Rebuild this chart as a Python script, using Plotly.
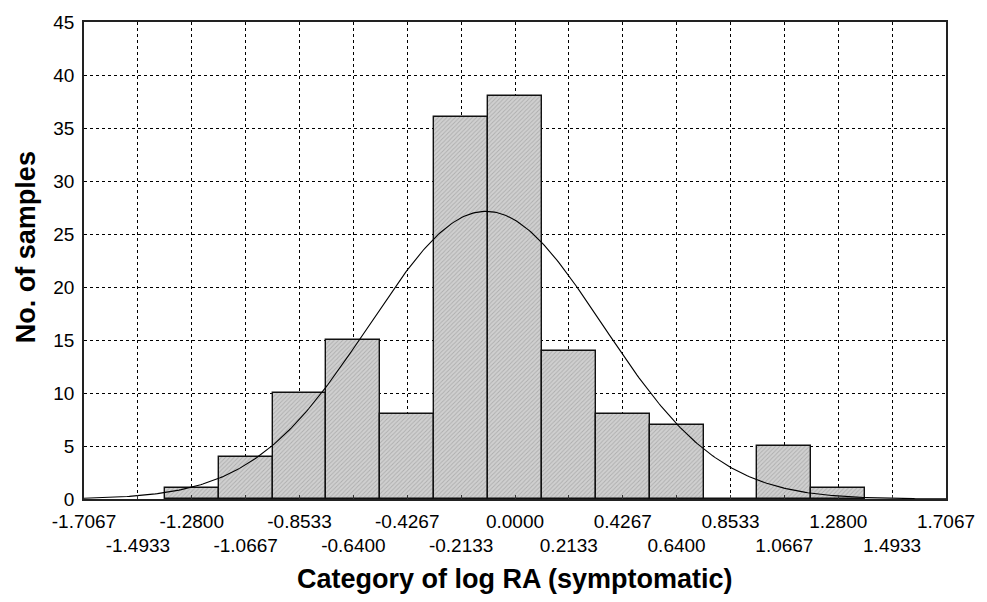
import numpy as np
import plotly.graph_objects as go

# ---- data ----
bin_centers = [-1.2800, -1.0667, -0.8533, -0.6400, -0.4267, -0.2133, 0.0000,
               0.2133, 0.4267, 0.6400, 0.8533, 1.0667, 1.2800]
counts = [1, 4, 10, 15, 8, 36, 38, 14, 8, 7, 0, 5, 1]
bin_width = 0.21333

tick_vals = [-1.7067, -1.4933, -1.2800, -1.0667, -0.8533, -0.6400, -0.4267, -0.2133,
             0.0000, 0.2133, 0.4267, 0.6400, 0.8533, 1.0667, 1.2800, 1.4933, 1.7067]
tick_labels = ["-1.7067", "-1.4933", "-1.2800", "-1.0667", "-0.8533", "-0.6400",
               "-0.4267", "-0.2133", "0.0000", "0.2133", "0.4267", "0.6400",
               "0.8533", "1.0667", "1.2800", "1.4933", "1.7067"]
y_ticks = [0, 5, 10, 15, 20, 25, 30, 35, 40, 45]

# fitted normal curve parameters
fit_mean = -0.115
fit_sd = 0.461

# ---- build ----
n_total = sum(counts)
xs = np.linspace(tick_vals[0], tick_vals[-1], 400)
ys = n_total * bin_width / (fit_sd * np.sqrt(2 * np.pi)) * np.exp(-0.5 * ((xs - fit_mean) / fit_sd) ** 2)

# staggered tick labels: every second label on a second row
tick_text = [t if i % 2 == 0 else "<br>" + t for i, t in enumerate(tick_labels)]

FONT = "Liberation Sans, Arial, sans-serif"

fig = go.Figure()
fig.add_trace(go.Bar(
    x=bin_centers, y=counts, width=bin_width,
    marker=dict(
        color="#c4c4c4",
        line=dict(color="#111111", width=1.4),
        pattern=dict(shape="/", fgcolor="#8c8c8c", bgcolor="#d0d0d0", size=3, solidity=0.3),
    ),
    showlegend=False,
))
fig.add_trace(go.Scatter(
    x=xs, y=ys, mode="lines",
    line=dict(color="#000000", width=1.1),
    showlegend=False,
))

fig.update_layout(
    width=987, height=602,
    margin=dict(l=84, r=35, t=13, b=103),
    paper_bgcolor="white", plot_bgcolor="white",
    bargap=0,
    font=dict(family=FONT, size=19, color="black"),
    xaxis=dict(
        range=[tick_vals[0], tick_vals[-1]],
        tickmode="array", tickvals=tick_vals, ticktext=tick_text,
        tickangle=0,
        ticks="inside", ticklen=4, tickcolor="#333333", tickwidth=1,
        ticklabelstandoff=4,
        showgrid=True, gridcolor="#000000", griddash="dot", gridwidth=1,
        showline=True, linecolor="#222222", linewidth=1.5, mirror=True,
        zeroline=False,
        tickfont=dict(family=FONT, size=19, color="black"),
    ),
    yaxis=dict(
        range=[0, 45],
        tickmode="array", tickvals=y_ticks,
        ticks="",
        ticklabelstandoff=4,
        showgrid=True, gridcolor="#000000", griddash="dot", gridwidth=1,
        showline=True, linecolor="#222222", linewidth=1.5, mirror=True,
        zeroline=False,
        tickfont=dict(family=FONT, size=19, color="black"),
    ),
    annotations=[
        dict(text="Category of log RA (symptomatic)", xref="paper", yref="paper",
             x=0.5, y=-0.1687, xanchor="center", yanchor="middle", showarrow=False,
             font=dict(family=FONT, size=27, color="black", weight="bold")),
        dict(text="No. of samples", xref="paper", yref="paper",
             x=-0.068, y=0.5288, xanchor="center", yanchor="middle", showarrow=False,
             textangle=-90,
             font=dict(family=FONT, size=27, color="black", weight="bold")),
    ],
)

fig.write_html("out.html")
